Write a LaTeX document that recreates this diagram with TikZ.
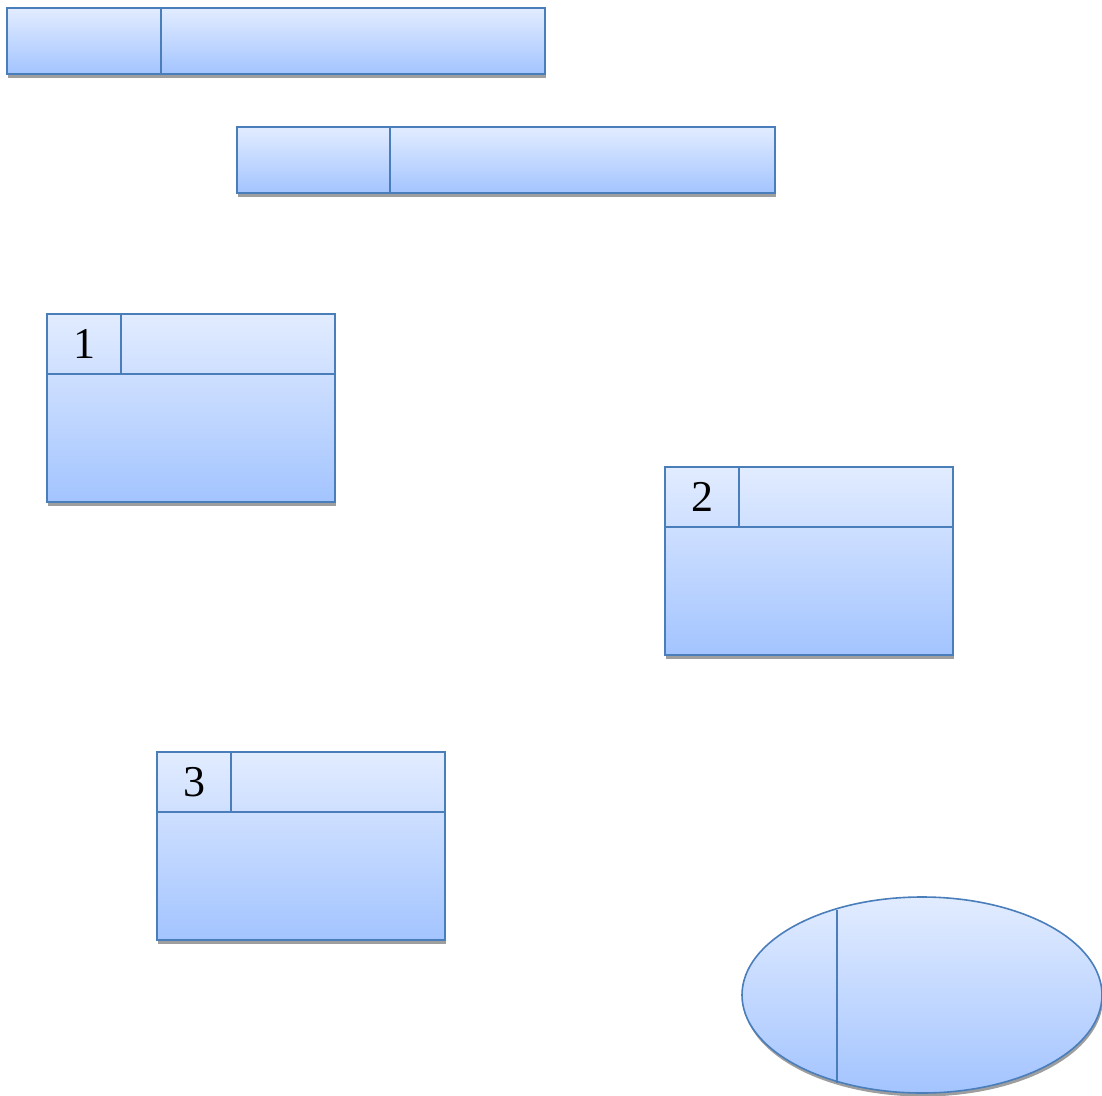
\documentclass[tikz,border=0pt]{standalone}
\usepackage{fontspec}
\setmainfont{Liberation Serif}
\usetikzlibrary{shapes.geometric,shadows}
\definecolor{edge}{HTML}{4A7EBB}
\definecolor{topc}{HTML}{E2ECFF}
\definecolor{botc}{HTML}{A3C4FF}
\definecolor{shadowc}{HTML}{9E9E9E}
\tikzset{
  filled/.style={draw=edge, line width=1.6pt, top color=topc, bottom color=botc, inner sep=0pt, outer sep=0pt,
    drop shadow={shadow xshift=1pt, shadow yshift=-3.5pt, fill=shadowc, opacity=1}},
  divider/.style={draw=edge, line width=1.6pt},
  numlabel/.style={font=\fontsize{44}{50}\selectfont, inner sep=0pt},
}
\begin{document}
\begin{tikzpicture}[x=1pt, y=-1pt]
\useasboundingbox (0,0) rectangle (1102,1095);
% bar 1
\node[filled, rectangle, minimum width=538pt, minimum height=66pt] (bar1) at (276,41) {};
\draw[divider] (161,0 |- bar1.north) coordinate (b1t) -- (161,0 |- bar1.south) coordinate (b1b);
% bar 2
\node[filled, rectangle, minimum width=538pt, minimum height=66pt] (bar2) at (506,160) {};
\draw[divider] (390,0 |- bar2.north) -- (390,0 |- bar2.south);
% box 1
\node[filled, rectangle, minimum width=288pt, minimum height=188pt] (box1) at (191,408) {};
\draw[divider] (box1.west |- 0,374) coordinate (h1l) -- (box1.east |- 0,374) coordinate (h1r);
\draw[divider] (121,0 |- box1.north) -- (121,374);
\node[numlabel] (n1) at (84,344) {1};
% box 2
\node[filled, rectangle, minimum width=288pt, minimum height=188pt] (box2) at (809,561) {};
\draw[divider] (box2.west |- 0,527) -- (box2.east |- 0,527);
\draw[divider] (739,0 |- box2.north) -- (739,527);
\node[numlabel] (n2) at (702,497) {2};
% box 3
\node[filled, rectangle, minimum width=288pt, minimum height=188pt] (box3) at (301,846) {};
\draw[divider] (box3.west |- 0,812) -- (box3.east |- 0,812);
\draw[divider] (231,0 |- box3.north) -- (231,812);
\node[numlabel] (n3) at (194,782) {3};
% ellipse
\node[filled, ellipse, minimum width=360pt, minimum height=196pt] (ell) at (922,995) {};
\draw[divider] (837,910) -- (837,1083);
\end{tikzpicture}
\end{document}
